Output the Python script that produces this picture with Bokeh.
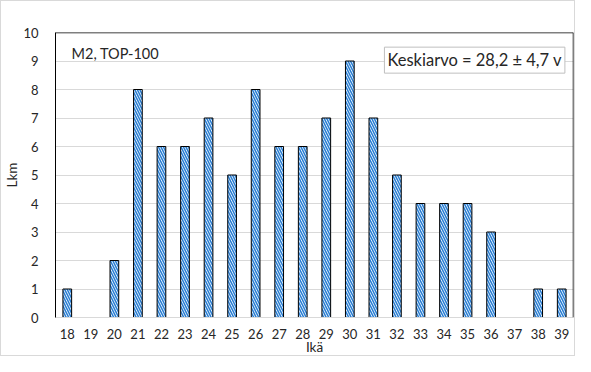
from bokeh.plotting import figure
from bokeh.models import Range1d, FactorRange, Label, Span, FixedTicker
from bokeh.embed import file_html
from bokeh.resources import INLINE

ages = [str(a) for a in range(18, 40)]
counts = [1, 0, 2, 8, 6, 6, 7, 5, 8, 6, 6, 7, 9, 7, 5, 4, 4, 4, 3, 0, 1, 1]
y_ticks = list(range(0, 11))
title_text = "M2, TOP-100"
mean_text = "Keskiarvo = 28,2 \u00b1 4,7 v"
x_label = "Ik\u00e4"
y_label = "Lkm"

FONT = "Lato"
TXT = "#262626"

p = figure(width=575, height=356, x_range=FactorRange(factors=ages),
           y_range=Range1d(0, 10), output_backend="svg", toolbar_location=None,
           min_border_left=54, min_border_right=3, min_border_top=31, min_border_bottom=34)
p.styles = {"border": "1px solid #d9d9d9", "box-sizing": "border-box"}
p.outline_line_color = None
p.background_fill_color = "white"
p.border_fill_color = "white"

bx = [a for a, c in zip(ages, counts) if c > 0]
bt = [c for c in counts if c > 0]
p.vbar(x=bx, top=bt, width=0.37, fill_color="white", line_color="black", line_width=1,
       hatch_pattern="left_diagonal_line", hatch_color="#2A7FD4", hatch_scale=5, hatch_weight=1.6)

p.xgrid.grid_line_color = None
p.ygrid.grid_line_color = "#d9d9d9"
p.ygrid.ticker = FixedTicker(ticks=y_ticks)

ya = p.yaxis[0]
ya.ticker = FixedTicker(ticks=y_ticks)
ya.axis_line_color = "black"
ya.major_tick_line_color = None
ya.minor_tick_line_color = None
ya.major_label_standoff = 11
ya.major_label_text_font = FONT
ya.major_label_text_font_size = "13px"
ya.major_label_text_color = TXT
ya.major_label_text_line_height = 1.0
ya.axis_label = y_label
ya.axis_label_text_font = FONT
ya.axis_label_text_font_size = "13.5px"
ya.axis_label_text_font_style = "normal"
ya.axis_label_text_color = TXT
ya.axis_label_text_line_height = 1.0
ya.axis_label_standoff = 0

xa = p.xaxis[0]
xa.axis_line_color = "#d9d9d9"
xa.major_tick_line_color = None
xa.minor_tick_line_color = None
xa.major_label_standoff = 5
xa.major_label_text_font = FONT
xa.major_label_text_font_size = "13px"
xa.major_label_text_color = TXT
xa.major_label_text_line_height = 1.0
xa.axis_label = x_label
xa.axis_label_text_font = FONT
xa.axis_label_text_font_size = "13.5px"
xa.axis_label_text_font_style = "normal"
xa.axis_label_text_color = TXT
xa.axis_label_text_line_height = 1.0
xa.axis_label_standoff = -3

p.add_layout(Span(location=10, dimension="width", line_color="black", line_width=1.5))
p.add_layout(Span(location=len(ages), dimension="height", line_color="black", line_width=1.5))

p.add_layout(Label(x=0.68, y=9.28, text=title_text, text_font=FONT, text_font_size="14.5px",
                   text_color=TXT, text_baseline="middle", text_align="left"))
p.add_layout(Label(x=13.97, y=9.03, text=mean_text, text_font=FONT, text_font_size="16.5px",
                   text_color=TXT, text_baseline="middle", text_align="left",
                   border_line_color="#bfbfbf", border_line_width=1, background_fill_color="white",
                   padding=3))

open("out.html", "w").write(file_html(p, INLINE))
